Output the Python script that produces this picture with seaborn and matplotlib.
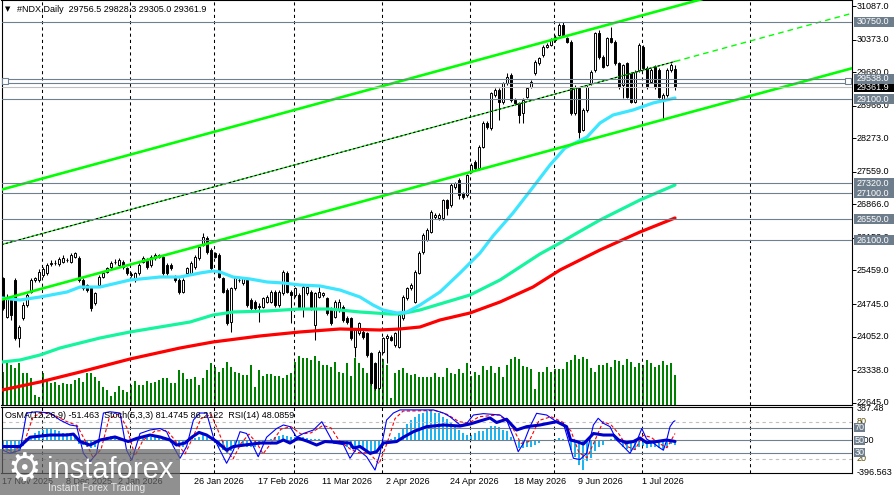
import matplotlib
matplotlib.use("Agg")
import matplotlib.pyplot as plt
import matplotlib.transforms as mtransforms
from matplotlib.patches import Rectangle
import numpy as np
import seaborn as sns

# ---------------- data ----------------
symbol_header = "#NDX,Daily  29756.5 29828.3 29305.0 29361.9"
indicator_header = "OsMA(12,26,9) -51.463  Stoch(5,3,3) 81.4745 86.2122  RSI(14) 48.0859"

opens = [25292, 24476, 24830, 25256, 24014, 24440, 24724, 25008, 25256, 25256,
         25362, 25398, 25600, 25611, 25589, 25646, 25690, 25646, 25753, 25717,
         25256, 25150, 25079, 24760, 25150, 25327, 25433, 25540, 25640, 25575,
         25646, 25504, 25380, 25256, 25398, 25646, 25682, 25575, 25717, 25788,
         25753, 25575, 25575, 25327, 25256, 25008, 25398, 25398, 25540, 25717,
         26001, 26143, 25894, 25823, 25788, 25292, 25043, 24369, 25079, 25250,
         25185, 25256, 24830, 24795, 24700, 24689, 24795, 24795, 25008, 24724,
         24972, 25398, 25008, 24937, 24937, 24653, 24972, 25008, 24298, 24901,
         24937, 24866, 24653, 24476, 24618, 24689, 24440, 24440, 23837, 24121,
         24157, 24121, 23696, 23483, 22951, 23731, 24014, 24050, 23873, 23837,
         24440, 24866, 25079, 24795, 25412, 25859, 26107, 26285, 26603, 26568,
         26568, 26958, 26852, 27242, 27384, 27100, 27065, 27561, 27774, 27632,
         28093, 28590, 28483, 29193, 29299, 29051, 29441, 29618, 29086, 29015,
         28800, 29157, 29370, 29654, 29867, 30044, 30222, 30257, 30364, 30470,
         30683, 30399, 30328, 28803, 29335, 28450, 28874, 29442, 29725, 30505,
         30009, 29830, 30399, 30328, 29867, 29406, 29867, 29654, 29051, 29725,
         30222, 29760, 29477, 29796, 29725, 29087, 29193, 29725, 29756.5]
highs = [25330, 24950, 24880, 25300, 24300, 24780, 24990, 25300, 25330, 25480,
         25530, 25610, 25680, 25690, 25740, 25790, 25720, 25830, 25860, 25760,
         25290, 25180, 25110, 25010, 25370, 25450, 25540, 25650, 25700, 25720,
         25690, 25540, 25420, 25430, 25610, 25760, 25720, 25790, 25830, 25820,
         25790, 25610, 25610, 25360, 25290, 25290, 25540, 25650, 25790, 26000,
         26249, 26200, 25930, 25859, 25830, 25330, 25080, 25110, 25330, 25300,
         25330, 25290, 24870, 24830, 24760, 24900, 24940, 25050, 25050, 25040,
         25470, 25440, 25040, 25110, 24970, 25150, 25130, 25040, 25000, 25100,
         25010, 24900, 24690, 24830, 24860, 24720, 24480, 24470, 24230, 24370,
         24190, 24160, 23730, 23520, 23770, 24050, 24100, 24080, 24150, 24540,
         24930, 25110, 25200, 25470, 25870, 26250, 26370, 26750, 26690, 26680,
         26990, 26990, 27310, 27350, 27420, 27130, 27520, 27740, 27810, 28130,
         28630, 28630, 29260, 29340, 29340, 29480, 29654, 29660, 29120, 29050,
         29120, 29370, 29510, 29940, 30010, 30260, 30300, 30400, 30470, 30718,
         30754, 30430, 30364, 29400, 29370, 28910, 29400, 29730, 30540, 30580,
         30050, 30430, 30647, 30363, 29900, 29860, 29900, 29690, 29720, 30290,
         30260, 29800, 29760, 29830, 29760, 29230, 29760, 29870, 29828.3]
lows = [24610, 24440, 24405, 23980, 23837, 24400, 24690, 24980, 25220, 25220,
        25330, 25360, 25560, 25570, 25560, 25610, 25640, 25610, 25720, 25220,
        25040, 25000, 24600, 24720, 25110, 25300, 25400, 25500, 25600, 25540,
        25500, 25360, 25330, 25220, 25360, 25610, 25500, 25540, 25690, 25720,
        25360, 25360, 25470, 25220, 24960, 24970, 25360, 25360, 25500, 25680,
        25970, 25820, 25470, 25720, 25290, 24970, 24290, 24157, 25040, 25210,
        25150, 24690, 24610, 24610, 24369, 24650, 24760, 24760, 24690, 24690,
        24940, 24970, 24334, 24900, 24650, 24476, 24940, 24620, 23979, 24870,
        24900, 24510, 24300, 24440, 24580, 24370, 24330, 23980, 23625, 24090,
        24010, 23620, 23020, 22920, 22930, 23700, 23483, 23950, 23840, 23800,
        24400, 24830, 25040, 24760, 25380, 25820, 26080, 26250, 26560, 26530,
        26530, 26640, 26820, 27200, 26990, 26990, 27030, 27530, 27600, 27600,
        28060, 28480, 28450, 29160, 28660, 29010, 29410, 29050, 28980, 28590,
        28600, 29120, 29340, 29620, 29840, 30010, 30190, 30230, 30330, 30440,
        30440, 30290, 28770, 28770, 28271, 28420, 28840, 29410, 29690, 29970,
        29760, 29800, 30290, 29830, 29330, 29122, 29120, 29020, 29020, 29690,
        29720, 29330, 29440, 29330, 29120, 28680, 29160, 29690, 29305.0]
closes = [24653, 24901, 24511, 24014, 24263, 24724, 24937, 25256, 25292, 25433,
          25483, 25575, 25611, 25625, 25696, 25731, 25682, 25788, 25823, 25256,
          25079, 25043, 24653, 24972, 25327, 25412, 25504, 25611, 25646, 25682,
          25540, 25398, 25370, 25398, 25575, 25717, 25540, 25753, 25788, 25753,
          25398, 25398, 25504, 25256, 25008, 25256, 25504, 25611, 25753, 25965,
          26178, 25859, 25504, 25753, 25327, 25008, 24334, 25079, 25292, 25260,
          25292, 24724, 24653, 24653, 24690, 24866, 24901, 25008, 24724, 25008,
          25433, 25008, 24937, 25079, 24689, 25114, 25100, 24653, 24972, 25008,
          24972, 24547, 24334, 24795, 24795, 24405, 24369, 24014, 24192, 24334,
          24050, 23660, 23057, 22951, 23731, 24014, 24064, 23979, 24121, 24511,
          24901, 25079, 25150, 25433, 25838, 26214, 26320, 26710, 26639, 26639,
          26958, 26781, 27277, 27313, 27065, 27029, 27490, 27703, 27632, 28093,
          28590, 28519, 29228, 29299, 29051, 29441, 29583, 29086, 29015, 28767,
          29086, 29335, 29476, 29902, 29973, 30222, 30257, 30364, 30435, 30683,
          30470, 30328, 28803, 29370, 28413, 28874, 29370, 29690, 30505, 30009,
          29796, 30399, 30328, 29867, 29370, 29831, 29158, 29051, 29690, 30257,
          29760, 29370, 29725, 29370, 29158, 29193, 29725, 29831, 29361.9]
volumes = [330, 420, 400, 370, 420, 320, 320, 270, 100, 80,
           320, 250, 220, 230, 200, 220, 210, 210, 250, 270,
           230, 320, 320, 280, 240, 180, 150, 90, 130, 190,
           150, 130, 200, 240, 200, 200, 240, 220, 230, 250,
           270, 270, 220, 220, 350, 320, 260, 260, 280, 200,
           270, 350, 420, 380, 330, 370, 430, 380, 330, 320,
           300, 300, 400, 180, 350, 290, 310, 310, 290, 290,
           270, 300, 320, 430, 490, 470, 470, 450, 490, 440,
           400, 400, 380, 430, 330, 320, 420, 290, 470, 420,
           370, 320, 290, 280, 450, 460, 400, 70, 320, 350,
           370, 320, 300, 310, 280, 280, 280, 280, 320, 280,
           280, 370, 320, 310, 360, 320, 420, 290, 330, 300,
           390, 350, 390, 320, 380, 280, 400, 460, 480, 460,
           390, 380, 360, 160, 330, 330, 380, 330, 360, 360,
           360, 430, 450, 500, 460, 480, 460, 370, 330, 400,
           400, 420, 380, 450, 440, 400, 460, 430, 380, 420,
           400, 450, 420, 380, 400, 440, 400, 420, 300]

fast_ma_bars = [-0.25, 4.25, 9.25, 16, 19.25, 24.25, 31.75, 39.25, 44.25, 49.25,
                52.5, 54.25, 57.5, 61.75, 66, 70, 74.25, 79.25, 84.25, 89.25,
                92.5, 95, 98.5, 101, 104.25, 109.25, 114.25, 119.25, 122.5, 127.5,
                133.5, 136.75, 140.5, 146, 149.25, 152.5, 157.5, 162.5, 168]
fast_ma_vals = [24873, 24831, 24894, 25001, 25107, 25107, 25256, 25320, 25320, 25405,
                25448, 25427, 25320, 25278, 25214, 25193, 25150, 25129, 25043, 24894,
                24724, 24618, 24554, 24575, 24724, 25001, 25405, 25831, 26193, 26682,
                27342, 27704, 28065, 28299, 28597, 28767, 28874, 29023, 29129]
mid_ma_bars = [-0.25, 4.25, 9.25, 14.25, 19.25, 24.25, 31.75, 39.25, 46.75, 52.5,
               57.5, 66, 74.25, 81.75, 89.25, 96.75, 99.25, 104.25, 109.25, 116.75,
               124.25, 129.25, 134.25, 139.25, 143.5, 149.25, 159.25, 168]
mid_ma_vals = [23511, 23554, 23660, 23809, 23916, 24022, 24150, 24256, 24362, 24511,
               24575, 24597, 24639, 24639, 24575, 24533, 24533, 24618, 24746, 24937,
               25256, 25533, 25810, 26044, 26256, 26533, 26959, 27278]
slow_ma_bars = [-0.25, 9.25, 19.25, 31.75, 44.25, 52.5, 64.25, 74.25, 84.25, 94.25,
                99.25, 104.25, 109.25, 116.75, 124.25, 132.5, 139.25, 149.25, 159.25, 168]
slow_ma_vals = [22915, 23086, 23298, 23575, 23809, 23937, 24065, 24150, 24214, 24192,
                24214, 24256, 24405, 24554, 24788, 25107, 25469, 25895, 26278, 26576]

channel_bars = [-0.375, 168, 212.25]
channel_mid = [26009, 29907, 30932]
channel_half_width = 1170

level_prices = [30750.0, 29538.0, 29100.0, 27320.0, 27100.0, 26550.0, 26100.0]
band_prices = [29538.0, 29455.0]
bid_price = 29361.9
price_ticks = [31087.0, 30373.0, 29680.0, 28966.0, 28273.0, 27559.0, 26866.0,
               26152.0, 25459.0, 24745.0, 24052.0, 23338.0, 22645.0]

date_label_bars = [0, 16, 29, 48, 64, 80, 96, 112, 128, 144, 160]
date_labels = ["17 Nov 2025", "8 Dec 2025", "2 Jan 2026", "26 Jan 2026", "17 Feb 2026",
               "11 Mar 2026", "2 Apr 2026", "24 Apr 2026", "18 May 2026", "9 Jun 2026",
               "1 Jul 2026"]
month_grid_bars = [9.75, 31.75, 52.75, 72.75, 94.75, 116.75, 137.75, 159.75, 186.75]

osma = [-111, -135, -148, -148, -123, -62, 25, 49, 90, 111,
        132, 139, 139, 132, 111, 98, 98, 90, 70, -37,
        -53, -74, -95, -74, -33, 9, 41, 58, 58, 41,
        16, -12, -25, -12, 16, 41, 49, 41, 49, 49,
        28, 9, -25, -53, -74, -74, -33, 0, 28, 49,
        70, 49, 9, -33, -74, -114, -148, -135, -95, -74,
        -65, -74, -74, -74, -53, -33, -12, 16, 41, 58,
        70, 58, 41, 41, 49, 41, 28, 16, 16, 16,
        9, -12, -33, -33, -41, -53, -74, -95, -107, -95,
        -95, -114, -148, -164, -114, -65, -25, 16, 49, 90,
        151, 205, 255, 295, 328, 344, 357, 357, 344, 336,
        290, 260, 213, 172, 132, 90, 70, 70, 90, 111,
        123, 151, 181, 181, 164, 132, 111, 49, 0, -95,
        -95, -74, -74, -53, -25, -12, 0, 9, 16, 28,
        16, -12, -114, -197, -299, -360, -258, -218, -135, -74,
        -53, -12, 16, 28, -12, -74, -107, -135, -114, -74,
        -65, -95, -82, -74, -95, -114, -74, -41, -51]
osma_max_label = 387.48
osma_min_label = -396.563

rsi_bars = [0, 4.25, 6.75, 11.75, 15.9, 17.6, 19.25, 21.75, 24.25, 28,
            31.3, 33.4, 36.75, 39.25, 41.75, 43.4, 45.5, 47.2, 49, 50.9,
            53.4, 55.9, 57.6, 64.25, 68.4, 70.1, 71.75, 73.8, 76.3, 78.4,
            80.5, 86.75, 87.6, 89.25, 91.75, 93.4, 95.1, 98.4, 100.1, 102.6,
            105.9, 110.1, 114.25, 116.75, 121.75, 123.4, 125.9, 127.2, 128.4, 130.9,
            134.25, 138.4, 140.9, 141.9, 143.4, 145.1, 146.75, 147.6, 150.1, 152.6,
            153.9, 155.9, 157.6, 159.25, 160.9, 163.4, 165.9, 168]
rsi_vals = [40, 40, 55, 58.5, 58.5, 60, 48, 42.4, 50.5, 55.4,
            48, 53, 58.5, 55.4, 50.5, 42.4, 45.6, 55, 62.7, 58.5,
            48, 34, 40, 45.6, 45.6, 50.5, 45.6, 53.7, 48, 42.4,
            48, 45.6, 37.5, 40, 29, 31.6, 45.6, 48, 55, 63.9,
            72, 74.7, 73, 76.3, 86, 78.7, 84, 74.7, 66.6, 72,
            74.7, 80, 72, 50.5, 48, 44, 55, 61, 58.5, 58.5,
            50.5, 46.2, 48, 53.7, 46.2, 48, 50.5, 48.1]

stoch_bars = [0, 1.75, 4.25, 5.9, 8.4, 11.75, 14.25, 16.75, 18.4, 20.1,
              21.75, 23.4, 25.1, 26.75, 29.25, 30.9, 32.2, 34.25, 36.75, 39.25,
              40.9, 42.6, 44.25, 45.9, 47.6, 49.25, 50.9, 52.6, 54.25, 55.9,
              57.6, 59.25, 60.9, 62.6, 63.8, 65.9, 68.4, 70.1, 71.75, 73.4,
              75.1, 77.6, 79.7, 81.3, 82.6, 85.1, 86.75, 88.4, 90.9, 93,
              94.25, 95.9, 97.6, 99.25, 107.6, 110.1, 111.75, 114.25, 115.9, 117.6,
              120.1, 124.25, 125.9, 127.6, 128.8, 130.1, 131.75, 133.4, 135.9, 138.4,
              140.1, 141.3, 142.6, 144.25, 145.9, 147.6, 148.8, 150.1, 151.75, 153.4,
              155.1, 156.75, 158.4, 159.7, 160.9, 162.6, 164.25, 165.1, 165.9, 166.75,
              167.6, 168]
stoch_vals = [34, 29, 34, 94, 96, 94, 82.7, 74.7, 73, 29,
              15.5, 29, 94, 96, 94, 34, 18, 61, 66.6, 69,
              63.9, 40, 21, 40, 82.7, 94, 94, 55, 34, 13,
              34, 63.9, 61, 40, 23.5, 55, 69, 74.7, 72, 55,
              61, 66.6, 80, 61, 45.6, 43, 21, 37, 23.5, 2,
              29, 82.7, 94, 99, 99, 94, 88, 74.7, 77, 90.8,
              93, 90.8, 82.7, 55, 31.6, 45, 72, 93.5, 90.8, 80,
              77, 50.5, 21, 19, 29, 74.7, 85.5, 77.4, 72, 50.5,
              40, 29, 48, 69, 52, 45.6, 37.5, 34, 50, 72,
              80, 81.5]
signal_bars = [0, 2.5, 5.5, 7.5, 10, 13, 16, 18.5, 20.5, 22.5,
               24.5, 26.5, 29, 31, 33, 35, 38, 41, 43, 45.5,
               47.5, 49.5, 52, 53.5, 55.5, 57.5, 59.5, 61.5, 63.5, 65,
               67, 69.5, 72, 74.5, 77, 80, 82, 84, 87, 89,
               91.5, 94, 96, 98, 100, 108, 111, 114, 116.5, 119,
               124, 127, 129.5, 131.5, 134, 137, 140, 142, 144, 146,
               148, 150, 152, 154, 156, 158, 160, 162, 164, 166, 168]
signal_vals = [40, 30, 50, 88, 95, 90, 80, 74, 50, 22,
               35, 85, 93, 70, 25, 50, 65, 66, 50, 28,
               55, 85, 92, 70, 38, 20, 45, 60, 45, 28,
               45, 68, 72, 60, 62, 74, 70, 50, 35, 30,
               30, 12, 45, 85, 97, 98, 92, 80, 78, 88,
               91, 75, 45, 48, 82, 88, 79, 65, 30, 22,
               50, 80, 75, 60, 40, 35, 58, 55, 45, 38, 61]
stoch_levels = [80, 20]
rsi_levels = [70, 50, 30]

# ---------------- figure layout ----------------
W, H, DPI = 896, 495, 100
sns.set_theme(style="white")
plt.rcParams['font.family'] = ['Liberation Sans', 'DejaVu Sans']
FS = 6.5

fig = plt.figure(figsize=(W / DPI, H / DPI), dpi=DPI, facecolor='white')


def rect(l, t, r, b):
    return [l / W, 1 - b / H, (r - l) / W, (b - t) / H]


ax = fig.add_axes(rect(1.5, 0, 852, 405))
axv = ax.twinx()
axi = fig.add_axes(rect(1.5, 406.5, 852, 473.3))
axo = axi.twinx()

ax.set_zorder(axv.get_zorder() + 1)
ax.patch.set_visible(False)
axi.set_zorder(axo.get_zorder() + 1)
axi.patch.set_visible(False)

XLIM = (-0.375, 212.25)
for a in (ax, axv, axi, axo):
    a.set_xlim(*XLIM)
    a.set_xticks([])
    for s in a.spines.values():
        s.set_color('black')
        s.set_linewidth(0.8)
ax.set_ylim(22596, 31215)
axv.set_ylim(0, 4050)
axi.set_ylim(-3.2, 104.5)
axo.set_ylim(-403.4, 418.2)
for a in (axv, axo, axi):
    a.set_yticks([])
axv.spines[:].set_visible(False)
axo.spines[:].set_visible(False)

ax.yaxis.tick_right()
ax.set_yticks(price_ticks)
ax.tick_params(axis='y', direction='out', length=3, width=0.7, color='black',
               labelright=False, labelleft=False, right=True, left=False)

# vertical month grid
for a in (ax, axi):
    for b in month_grid_bars:
        a.axvline(b, color='black', lw=0.75, ls=(0, (3, 3)), zorder=1)

# volumes (thin green columns)
idx = np.arange(len(closes))
axv.bar(idx, volumes, width=0.3, color='#008000', linewidth=0, antialiased=False)

# candles
o = np.array(opens, float)
c = np.array(closes, float)
h = np.array(highs, float)
l = np.array(lows, float)
up = c >= o
ax.vlines(idx, l, h, color='black', lw=0.75, zorder=3)
ax.bar(idx[up], np.maximum(c - o, 8)[up], bottom=o[up], width=0.6,
       color='white', edgecolor='black', linewidth=0.7, zorder=4)
ax.bar(idx[~up], np.maximum(o - c, 8)[~up], bottom=c[~up], width=0.6,
       color='black', edgecolor='black', linewidth=0.7, zorder=4)

# moving averages
sns.lineplot(x=slow_ma_bars, y=slow_ma_vals, ax=ax, color='#FF0000', linewidth=2.3,
             estimator=None, sort=False, zorder=5, legend=False)
sns.lineplot(x=mid_ma_bars, y=mid_ma_vals, ax=ax, color='#14F59E', linewidth=2.3,
             estimator=None, sort=False, zorder=5, legend=False)
sns.lineplot(x=fast_ma_bars, y=fast_ma_vals, ax=ax, color='#3CE6FF', linewidth=2.3,
             estimator=None, sort=False, zorder=5, legend=False)

# regression channel
cb = channel_bars
cm = channel_mid
hw = channel_half_width
ax.plot([cb[0], cb[2]], [cm[0] + hw, cm[2] + hw], color='#00FF00', lw=1.9, zorder=6)
ax.plot([cb[0], cb[2]], [cm[0] - hw, cm[2] - hw], color='#00FF00', lw=1.9, zorder=6)
ax.plot([cb[0], cb[1]], [cm[0], cm[1]], color='#00E000', lw=0.8, zorder=6)
ax.plot([cb[0], cb[1]], [cm[0], cm[1]], color='black', lw=0.8, ls=(0, (2, 2)), zorder=6)
ax.plot([cb[1], cb[2]], [cm[1], cm[2]], color='#00FF00', lw=1.0, ls=(0, (4, 3)), zorder=6)

# horizontal levels
for p in level_prices:
    ax.axhline(p, color='#708090', lw=0.8, zorder=7)
ax.axhline(band_prices[1], color='#708090', lw=0.8, zorder=7)
ax.axhline(bid_price, color='#C0C0C0', lw=0.8, zorder=7)
band_mid = sum(band_prices) / 2
ax.plot([0.5, 211.25], [band_mid, band_mid], ls='none', marker='s', markersize=4.5,
        markerfacecolor='white', markeredgecolor='#708090', markeredgewidth=0.8,
        zorder=8, clip_on=False)

# indicator panel
axo.bar(idx, osma, width=0.55, color='#1EB4F0', linewidth=0)
for v in stoch_levels:
    axi.axhline(v, color='#C0C0C0', lw=0.8, ls=(0, (3, 3)), zorder=2)
for v in rsi_levels:
    axi.axhline(v, color='#708090', lw=0.8, zorder=2)
sns.lineplot(x=signal_bars, y=signal_vals, ax=axi, color='#FF0000', linewidth=0.8,
             linestyle=(0, (3, 2)), estimator=None, sort=False, zorder=4, legend=False)
sns.lineplot(x=stoch_bars, y=stoch_vals, ax=axi, color='#0000FF', linewidth=0.8,
             estimator=None, sort=False, zorder=5, legend=False)
sns.lineplot(x=rsi_bars, y=rsi_vals, ax=axi, color='#0000CD', linewidth=2.2,
             estimator=None, sort=False, zorder=6, legend=False)
for a in (ax, axi, axv, axo):
    a.set_xlabel('')
    a.set_ylabel('')

# ---------------- texts ----------------
ident = mtransforms.IdentityTransform()


def ydisp(a, v):
    return a.transData.transform((0, v))[1]


def label_box(yd, text, fc, width=40, height=10, tx=857, z=4):
    fig.add_artist(Rectangle((853.5, yd - height / 2), width, height, transform=ident,
                             facecolor=fc, edgecolor='none', zorder=z))
    fig.text(tx, yd, text, transform=ident, fontsize=FS, color='white',
             va='center', ha='left', zorder=z + 0.5)


for p in price_ticks:
    fig.text(857, ydisp(ax, p), f"{p:.1f}", transform=ident, fontsize=FS,
             color='black', va='center', ha='left', zorder=3)
label_box(ydisp(ax, bid_price), f"{bid_price:.1f}", '#000000', height=9, z=4)
for p in level_prices:
    label_box(ydisp(ax, p), f"{p:.1f}", '#6E7D8C', z=5)

fig.text(857, ydisp(axo, osma_max_label), f"{osma_max_label:.2f}", transform=ident,
         fontsize=FS, color='black', va='center', ha='left', zorder=3)
fig.text(857, ydisp(axo, osma_min_label), f"{osma_min_label:.3f}", transform=ident,
         fontsize=FS, color='black', va='center', ha='left', zorder=3)
fig.text(857, ydisp(axo, 0), "0.00", transform=ident, fontsize=FS,
         color='black', va='center', ha='left', zorder=3)
for v in stoch_levels:
    fig.text(857, ydisp(axi, v), f"{v}", transform=ident, fontsize=FS,
             color='#5A4A00', va='center', ha='left', zorder=3)
for v in rsi_levels:
    label_box(ydisp(axi, v), f"{v}", '#6E7D8C', width=11.5, height=9, tx=855, z=5)

fig.text(5, H - 9, '\u25BC', transform=ident, fontsize=5, color='black',
         va='center', ha='left', family=['DejaVu Sans'])
fig.text(17, H - 9, symbol_header, transform=ident, fontsize=FS, color='black',
         va='center', ha='left')
fig.text(5, H - 415, indicator_header, transform=ident, fontsize=FS, color='black',
         va='center', ha='left', zorder=3)

blend = mtransforms.blended_transform_factory(axi.transData, ident)
for b, t in zip(date_label_bars, date_labels):
    axi.text(b - 0.3, H - 482, t, transform=blend, fontsize=FS, color='black',
             va='center', ha='left', clip_on=False)

# watermark
fig.add_artist(Rectangle((0, 0), 180, 46, transform=ident, facecolor='#666666',
                         edgecolor='none', alpha=0.72, zorder=10))
fig.text(24, H - 470, '\u2699', transform=ident, fontsize=27, color='white',
         va='center', ha='center', family=['DejaVu Sans'], zorder=11)
fig.text(47, H - 470, 'instaforex', transform=ident, fontsize=21, color='white',
         va='center', ha='left', zorder=11)
fig.text(48, H - 488, 'Instant Forex Trading', transform=ident, fontsize=7.4,
         color='#E6E6E6', va='center', ha='left', zorder=11)

fig.savefig('out.png', dpi=DPI, facecolor='white')
